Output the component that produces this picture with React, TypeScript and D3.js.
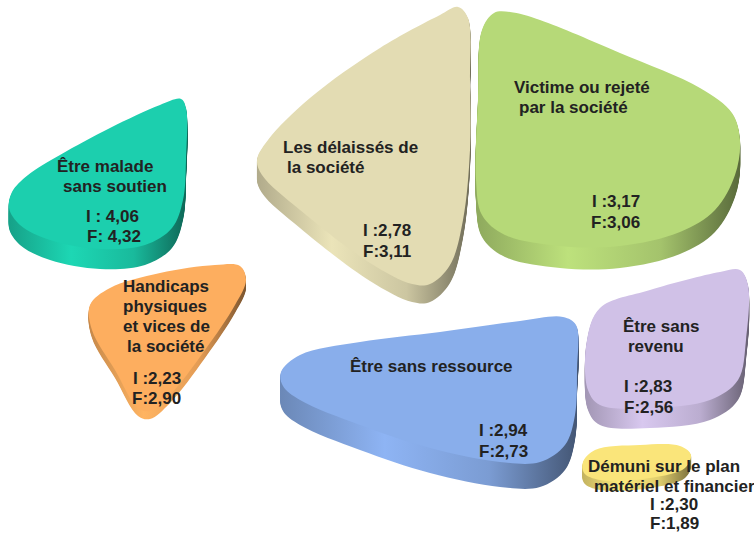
import React from "react";
import * as d3 from "d3";

// ---- data ----
const categories = [
  "Être malade sans soutien",
  "Handicaps physiques et vices de la société",
  "Les délaissés de la société",
  "Victime ou rejeté par la société",
  "Être sans ressource",
  "Être sans revenu",
  "Démuni sur le plan matériel et financier",
];
const labelLines: string[][] = [
  ["Être malade", "sans soutien"],
  ["Handicaps", "physiques", "et vices de", "la société"],
  ["Les délaissés de", "la société"],
  ["Victime ou rejeté", "par la société"],
  ["Être sans ressource"],
  ["Être sans", "revenu"],
  ["Démuni sur le plan", "matériel et financier"],
];
const valuesI = [4.06, 2.23, 2.78, 3.17, 2.94, 2.83, 2.3];
const valuesF = [4.32, 2.9, 3.11, 3.06, 2.73, 2.56, 1.89];
const prefixI = ["I : ", "I :", "I :", "I :", "I :", "I :", "I :"];
const prefixF = ["F: ", "F:", "F:", "F:", "F:", "F:", "F:"];

// ---- layout / style ----
const colors = ["#1ccfae", "#fdae5f", "#e3dcb3", "#b6d978", "#89aeeb", "#d0c1e7", "#fae57a"];
const outlines: [number, number][][] = [
  [[181, 99], [186, 108], [186, 160], [183, 200], [172, 228], [145, 245], [100, 249], [50, 240], [20, 225], [9, 208], [12, 192], [28, 175], [60, 155], [110, 128], [160, 105]],
  [[90, 305], [110, 288], [160, 273], [215, 265], [240, 266], [246, 280], [235, 305], [205, 350], [170, 395], [150, 411], [138, 408], [115, 370], [92, 330]],
  [[458, 7], [468, 18], [470, 80], [470, 150], [463, 220], [450, 265], [430, 284], [412, 284], [370, 263], [300, 210], [262, 175], [257, 160], [268, 140], [310, 98], [380, 48], [440, 15]],
  [[494, 13], [510, 12], [540, 20], [620, 53], [700, 88], [732, 113], [740, 140], [735, 175], [715, 210], [680, 232], [620, 246], [560, 246], [505, 235], [482, 215], [476, 180], [478, 100], [482, 30]],
  [[281, 372], [300, 355], [360, 342], [440, 332], [520, 321], [563, 317], [576, 325], [577, 370], [575, 415], [565, 445], [540, 462], [500, 462], [430, 448], [360, 425], [300, 400], [283, 386]],
  [[587, 340], [600, 308], [650, 290], [720, 272], [740, 270], [748, 285], [746, 340], [738, 380], [710, 400], [650, 408], [600, 405], [588, 390]],
  [[583, 462], [595, 450], [640, 445], [680, 446], [691, 455], [685, 468], [650, 478], [600, 480], [584, 473]],
];
const depths = [20, 8, 18, 22, 25, 20, 10];
const labelX: number[][] = [[57, 63], [123, 123, 123, 127], [283, 287], [514, 519], [350], [623, 628], [588, 594]];
const labelY = [172, 292, 153, 93, 372, 332, 472];
const valueX: number[][] = [[86, 87], [133, 132], [363, 363], [592, 591], [479, 479], [624, 624], [650, 650]];
const valueY = [222, 384, 236, 207, 436, 392, 510];
const valueGap = [20, 20, 21, 21, 21, 21, 19];

const fmt = (v: number) => d3.format(".2f")(v).replace(".", ",");
const line = d3.line().curve(d3.curveCatmullRomClosed.alpha(0.5));

export default function App() {
  const W = 754, H = 535;
  return (
    <svg width={W} height={H} style={{ position: "absolute", left: 0, top: 0, background: "#fff" }}
      fontFamily="'Liberation Sans', Arial, sans-serif">
      <defs>
        {colors.map((c, i) => {
          const base = d3.color(c)!;
          return (
            <linearGradient key={i} id={`side${i}`} x1="0" x2="1" y1="0" y2="0">
              <stop offset="0%" stopColor={base.darker(0.7).formatHex()} />
              <stop offset="35%" stopColor={base.brighter(0.1).formatHex()} />
              <stop offset="70%" stopColor={base.darker(0.3).formatHex()} />
              <stop offset="100%" stopColor={base.darker(2).formatHex()} />
            </linearGradient>
          );
        })}
      </defs>
      {categories.map((cat, i) => {
        const d = line(outlines[i])!;
        const layers = d3.range(depths[i], 0, -1);
        return (
          <g key={cat}>
            {layers.map((k) => (
              <path key={k} d={d} transform={`translate(0,${k})`} fill={`url(#side${i})`} />
            ))}
            <path d={d} fill={colors[i]} />
          </g>
        );
      })}
      {categories.map((cat, i) => (
        <g key={"t" + cat} fontSize={17} fontWeight="bold" fill="#222">
          {labelLines[i].map((ln, j) => (
            <text key={j} x={labelX[i][j]} y={labelY[i] + j * 20}>{ln}</text>
          ))}
          <text x={valueX[i][0]} y={valueY[i]}>{prefixI[i] + fmt(valuesI[i])}</text>
          <text x={valueX[i][1]} y={valueY[i] + valueGap[i]}>{prefixF[i] + fmt(valuesF[i])}</text>
        </g>
      ))}
    </svg>
  );
}
